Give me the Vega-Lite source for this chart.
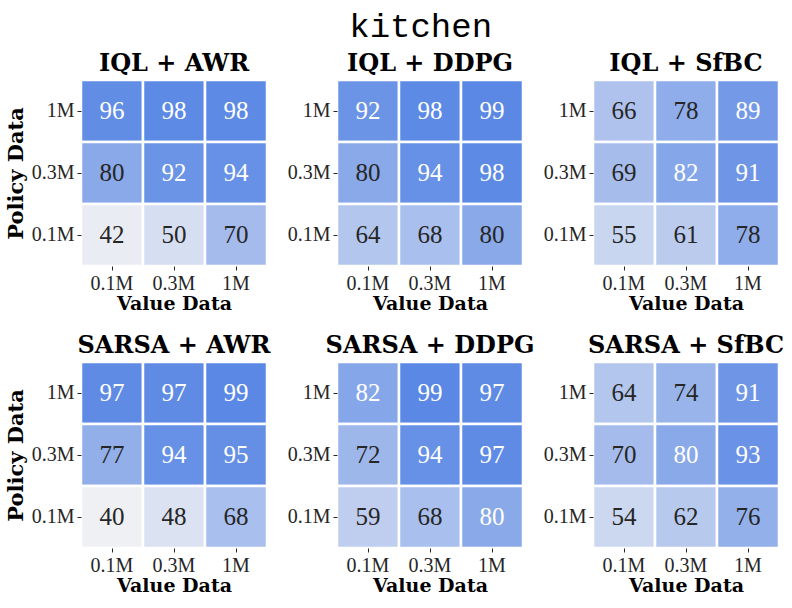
{
  "$schema": "https://vega.github.io/schema/vega-lite/v6.json",
  "background": "white",
  "padding": {"left": 5, "top": 9, "right": 3, "bottom": 2},
  "title": {"text": "kitchen", "font": "Liberation Mono", "fontSize": 34, "fontWeight": "normal", "color": "#000000", "anchor": "middle", "offset": 8, "dx": 26},
  "data": {"values": [
    {"panel": "IQL + AWR", "policy_data": "1M", "value_data": "0.1M", "success": 96},
    {"panel": "IQL + AWR", "policy_data": "1M", "value_data": "0.3M", "success": 98},
    {"panel": "IQL + AWR", "policy_data": "1M", "value_data": "1M", "success": 98},
    {"panel": "IQL + AWR", "policy_data": "0.3M", "value_data": "0.1M", "success": 80},
    {"panel": "IQL + AWR", "policy_data": "0.3M", "value_data": "0.3M", "success": 92},
    {"panel": "IQL + AWR", "policy_data": "0.3M", "value_data": "1M", "success": 94},
    {"panel": "IQL + AWR", "policy_data": "0.1M", "value_data": "0.1M", "success": 42},
    {"panel": "IQL + AWR", "policy_data": "0.1M", "value_data": "0.3M", "success": 50},
    {"panel": "IQL + AWR", "policy_data": "0.1M", "value_data": "1M", "success": 70},
    {"panel": "IQL + DDPG", "policy_data": "1M", "value_data": "0.1M", "success": 92},
    {"panel": "IQL + DDPG", "policy_data": "1M", "value_data": "0.3M", "success": 98},
    {"panel": "IQL + DDPG", "policy_data": "1M", "value_data": "1M", "success": 99},
    {"panel": "IQL + DDPG", "policy_data": "0.3M", "value_data": "0.1M", "success": 80},
    {"panel": "IQL + DDPG", "policy_data": "0.3M", "value_data": "0.3M", "success": 94},
    {"panel": "IQL + DDPG", "policy_data": "0.3M", "value_data": "1M", "success": 98},
    {"panel": "IQL + DDPG", "policy_data": "0.1M", "value_data": "0.1M", "success": 64},
    {"panel": "IQL + DDPG", "policy_data": "0.1M", "value_data": "0.3M", "success": 68},
    {"panel": "IQL + DDPG", "policy_data": "0.1M", "value_data": "1M", "success": 80},
    {"panel": "IQL + SfBC", "policy_data": "1M", "value_data": "0.1M", "success": 66},
    {"panel": "IQL + SfBC", "policy_data": "1M", "value_data": "0.3M", "success": 78},
    {"panel": "IQL + SfBC", "policy_data": "1M", "value_data": "1M", "success": 89},
    {"panel": "IQL + SfBC", "policy_data": "0.3M", "value_data": "0.1M", "success": 69},
    {"panel": "IQL + SfBC", "policy_data": "0.3M", "value_data": "0.3M", "success": 82},
    {"panel": "IQL + SfBC", "policy_data": "0.3M", "value_data": "1M", "success": 91},
    {"panel": "IQL + SfBC", "policy_data": "0.1M", "value_data": "0.1M", "success": 55},
    {"panel": "IQL + SfBC", "policy_data": "0.1M", "value_data": "0.3M", "success": 61},
    {"panel": "IQL + SfBC", "policy_data": "0.1M", "value_data": "1M", "success": 78},
    {"panel": "SARSA + AWR", "policy_data": "1M", "value_data": "0.1M", "success": 97},
    {"panel": "SARSA + AWR", "policy_data": "1M", "value_data": "0.3M", "success": 97},
    {"panel": "SARSA + AWR", "policy_data": "1M", "value_data": "1M", "success": 99},
    {"panel": "SARSA + AWR", "policy_data": "0.3M", "value_data": "0.1M", "success": 77},
    {"panel": "SARSA + AWR", "policy_data": "0.3M", "value_data": "0.3M", "success": 94},
    {"panel": "SARSA + AWR", "policy_data": "0.3M", "value_data": "1M", "success": 95},
    {"panel": "SARSA + AWR", "policy_data": "0.1M", "value_data": "0.1M", "success": 40},
    {"panel": "SARSA + AWR", "policy_data": "0.1M", "value_data": "0.3M", "success": 48},
    {"panel": "SARSA + AWR", "policy_data": "0.1M", "value_data": "1M", "success": 68},
    {"panel": "SARSA + DDPG", "policy_data": "1M", "value_data": "0.1M", "success": 82},
    {"panel": "SARSA + DDPG", "policy_data": "1M", "value_data": "0.3M", "success": 99},
    {"panel": "SARSA + DDPG", "policy_data": "1M", "value_data": "1M", "success": 97},
    {"panel": "SARSA + DDPG", "policy_data": "0.3M", "value_data": "0.1M", "success": 72},
    {"panel": "SARSA + DDPG", "policy_data": "0.3M", "value_data": "0.3M", "success": 94},
    {"panel": "SARSA + DDPG", "policy_data": "0.3M", "value_data": "1M", "success": 97},
    {"panel": "SARSA + DDPG", "policy_data": "0.1M", "value_data": "0.1M", "success": 59},
    {"panel": "SARSA + DDPG", "policy_data": "0.1M", "value_data": "0.3M", "success": 68},
    {"panel": "SARSA + DDPG", "policy_data": "0.1M", "value_data": "1M", "success": 80},
    {"panel": "SARSA + SfBC", "policy_data": "1M", "value_data": "0.1M", "success": 64},
    {"panel": "SARSA + SfBC", "policy_data": "1M", "value_data": "0.3M", "success": 74},
    {"panel": "SARSA + SfBC", "policy_data": "1M", "value_data": "1M", "success": 91},
    {"panel": "SARSA + SfBC", "policy_data": "0.3M", "value_data": "0.1M", "success": 70},
    {"panel": "SARSA + SfBC", "policy_data": "0.3M", "value_data": "0.3M", "success": 80},
    {"panel": "SARSA + SfBC", "policy_data": "0.3M", "value_data": "1M", "success": 93},
    {"panel": "SARSA + SfBC", "policy_data": "0.1M", "value_data": "0.1M", "success": 54},
    {"panel": "SARSA + SfBC", "policy_data": "0.1M", "value_data": "0.3M", "success": 62},
    {"panel": "SARSA + SfBC", "policy_data": "0.1M", "value_data": "1M", "success": 76}
  ]},
  "columns": 3,
  "spacing": {"row": 96, "column": 70},
  "bounds": "flush",
  "concat": [
    {"title": "IQL + AWR", "width": 186, "height": 186,
     "transform": [{"filter": "datum.panel == 'IQL + AWR'"}],
     "encoding": {
       "x": {"field": "value_data", "type": "ordinal", "sort": ["0.1M", "0.3M", "1M"], "axis": {"title": "Value Data"}},
       "y": {"field": "policy_data", "type": "ordinal", "sort": ["1M", "0.3M", "0.1M"], "axis": {"title": "Policy Data"}}},
     "layer": [
       {"mark": {"type": "rect", "stroke": "white", "strokeWidth": 2.5},
        "encoding": {"color": {"field": "success", "type": "quantitative", "scale": {"domain": [40, 100], "range": ["#eff0f4", "#5886e4"], "interpolate": "rgb"}, "legend": null}}},
       {"mark": {"type": "text", "font": "Liberation Serif", "fontSize": 25},
        "encoding": {"text": {"field": "success", "type": "quantitative"},
          "color": {"condition": {"test": "datum.success > 80 || (datum.success == 80 && indexof(datum.panel, 'SARSA') == 0)", "value": "#ffffff"}, "value": "#262626"}}}
     ]},
    {"title": "IQL + DDPG", "width": 186, "height": 186,
     "transform": [{"filter": "datum.panel == 'IQL + DDPG'"}],
     "encoding": {
       "x": {"field": "value_data", "type": "ordinal", "sort": ["0.1M", "0.3M", "1M"], "axis": {"title": "Value Data"}},
       "y": {"field": "policy_data", "type": "ordinal", "sort": ["1M", "0.3M", "0.1M"], "axis": {"title": null}}},
     "layer": [
       {"mark": {"type": "rect", "stroke": "white", "strokeWidth": 2.5},
        "encoding": {"color": {"field": "success", "type": "quantitative", "scale": {"domain": [40, 100], "range": ["#eff0f4", "#5886e4"], "interpolate": "rgb"}, "legend": null}}},
       {"mark": {"type": "text", "font": "Liberation Serif", "fontSize": 25},
        "encoding": {"text": {"field": "success", "type": "quantitative"},
          "color": {"condition": {"test": "datum.success > 80 || (datum.success == 80 && indexof(datum.panel, 'SARSA') == 0)", "value": "#ffffff"}, "value": "#262626"}}}
     ]},
    {"title": "IQL + SfBC", "width": 186, "height": 186,
     "transform": [{"filter": "datum.panel == 'IQL + SfBC'"}],
     "encoding": {
       "x": {"field": "value_data", "type": "ordinal", "sort": ["0.1M", "0.3M", "1M"], "axis": {"title": "Value Data"}},
       "y": {"field": "policy_data", "type": "ordinal", "sort": ["1M", "0.3M", "0.1M"], "axis": {"title": null}}},
     "layer": [
       {"mark": {"type": "rect", "stroke": "white", "strokeWidth": 2.5},
        "encoding": {"color": {"field": "success", "type": "quantitative", "scale": {"domain": [40, 100], "range": ["#eff0f4", "#5886e4"], "interpolate": "rgb"}, "legend": null}}},
       {"mark": {"type": "text", "font": "Liberation Serif", "fontSize": 25},
        "encoding": {"text": {"field": "success", "type": "quantitative"},
          "color": {"condition": {"test": "datum.success > 80 || (datum.success == 80 && indexof(datum.panel, 'SARSA') == 0)", "value": "#ffffff"}, "value": "#262626"}}}
     ]},
    {"title": "SARSA + AWR", "width": 186, "height": 186,
     "transform": [{"filter": "datum.panel == 'SARSA + AWR'"}],
     "encoding": {
       "x": {"field": "value_data", "type": "ordinal", "sort": ["0.1M", "0.3M", "1M"], "axis": {"title": "Value Data"}},
       "y": {"field": "policy_data", "type": "ordinal", "sort": ["1M", "0.3M", "0.1M"], "axis": {"title": "Policy Data"}}},
     "layer": [
       {"mark": {"type": "rect", "stroke": "white", "strokeWidth": 2.5},
        "encoding": {"color": {"field": "success", "type": "quantitative", "scale": {"domain": [40, 100], "range": ["#eff0f4", "#5886e4"], "interpolate": "rgb"}, "legend": null}}},
       {"mark": {"type": "text", "font": "Liberation Serif", "fontSize": 25},
        "encoding": {"text": {"field": "success", "type": "quantitative"},
          "color": {"condition": {"test": "datum.success > 80 || (datum.success == 80 && indexof(datum.panel, 'SARSA') == 0)", "value": "#ffffff"}, "value": "#262626"}}}
     ]},
    {"title": "SARSA + DDPG", "width": 186, "height": 186,
     "transform": [{"filter": "datum.panel == 'SARSA + DDPG'"}],
     "encoding": {
       "x": {"field": "value_data", "type": "ordinal", "sort": ["0.1M", "0.3M", "1M"], "axis": {"title": "Value Data"}},
       "y": {"field": "policy_data", "type": "ordinal", "sort": ["1M", "0.3M", "0.1M"], "axis": {"title": null}}},
     "layer": [
       {"mark": {"type": "rect", "stroke": "white", "strokeWidth": 2.5},
        "encoding": {"color": {"field": "success", "type": "quantitative", "scale": {"domain": [40, 100], "range": ["#eff0f4", "#5886e4"], "interpolate": "rgb"}, "legend": null}}},
       {"mark": {"type": "text", "font": "Liberation Serif", "fontSize": 25},
        "encoding": {"text": {"field": "success", "type": "quantitative"},
          "color": {"condition": {"test": "datum.success > 80 || (datum.success == 80 && indexof(datum.panel, 'SARSA') == 0)", "value": "#ffffff"}, "value": "#262626"}}}
     ]},
    {"title": "SARSA + SfBC", "width": 186, "height": 186,
     "transform": [{"filter": "datum.panel == 'SARSA + SfBC'"}],
     "encoding": {
       "x": {"field": "value_data", "type": "ordinal", "sort": ["0.1M", "0.3M", "1M"], "axis": {"title": "Value Data"}},
       "y": {"field": "policy_data", "type": "ordinal", "sort": ["1M", "0.3M", "0.1M"], "axis": {"title": null}}},
     "layer": [
       {"mark": {"type": "rect", "stroke": "white", "strokeWidth": 2.5},
        "encoding": {"color": {"field": "success", "type": "quantitative", "scale": {"domain": [40, 100], "range": ["#eff0f4", "#5886e4"], "interpolate": "rgb"}, "legend": null}}},
       {"mark": {"type": "text", "font": "Liberation Serif", "fontSize": 25},
        "encoding": {"text": {"field": "success", "type": "quantitative"},
          "color": {"condition": {"test": "datum.success > 80 || (datum.success == 80 && indexof(datum.panel, 'SARSA') == 0)", "value": "#ffffff"}, "value": "#262626"}}}
     ]}
  ],
  "resolve": {"scale": {"color": "shared"}},
  "config": {
    "view": {"stroke": null},
    "text": {"font": "Liberation Serif"},
    "title": {"font": "DejaVu Serif", "fontSize": 24, "fontWeight": "bold", "color": "#000000", "offset": 3},
    "axis": {
      "domain": false, "ticks": true, "tickSize": 4, "tickColor": "#262626", "tickWidth": 1,
      "labelFont": "Liberation Serif", "labelFontSize": 20, "labelColor": "#262626", "labelPadding": 3,
      "titleFont": "DejaVu Serif", "titleFontWeight": "bold", "titleColor": "#000000",
      "grid": false
    },
    "axisX": {"labelAngle": 0, "titlePadding": 1, "titleFontSize": 19},
    "axisY": {"titlePadding": 5, "titleFontSize": 21}
  }
}
